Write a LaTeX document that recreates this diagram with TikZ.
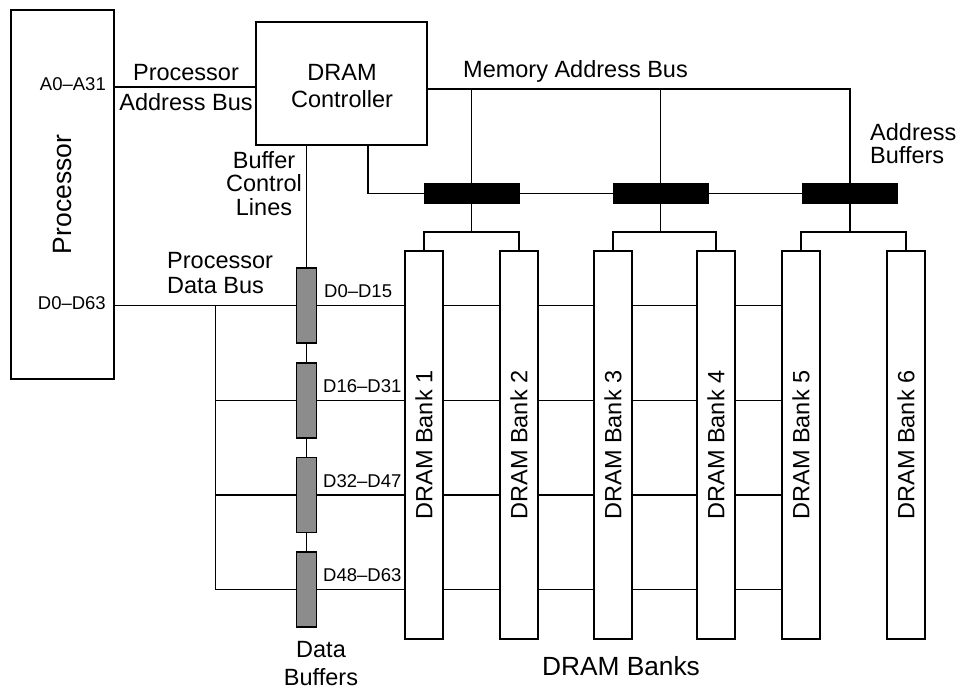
\documentclass[tikz,border=0pt]{standalone}
\usepackage{fontspec}
\setmainfont{Liberation Sans}
\begin{document}
\begin{tikzpicture}[x=1pt,y=-1pt,
  conn/.style={line width=1.1pt},
  box/.style={draw, line width=1.3pt, inner sep=0pt, fill=white},
  bank/.style={box, minimum width=38pt, minimum height=388pt, font=\fontsize{23.5}{27}\selectfont},
  abuf/.style={draw, line width=1pt, fill=black, minimum width=95pt, minimum height=19.5pt, inner sep=0pt},
  dbuf/.style={draw, line width=1.3pt, fill=black!45, minimum width=20pt, minimum height=75pt, inner sep=0pt},
  lbl/.style={font=\fontsize{23.5}{27}\selectfont, inner sep=0pt},
  sm/.style={font=\fontsize{18.5}{22}\selectfont, inner sep=0pt}]
\useasboundingbox (0,0) rectangle (960,691);

% main blocks
\node[box, minimum width=103pt, minimum height=369pt, font=\fontsize{26.5}{30}\selectfont] (proc) at (62.5,194.5) {\rotatebox{90}{Processor}};
\node[box, minimum width=171pt, minimum height=123pt] (ctrl) at (341.5,83.5) {};
\node[lbl, align=center, anchor=base, font=\fontsize{23.5}{27}\selectfont] (ctrlt) at (342,107) {DRAM\\Controller};

% banks
\node[bank] (b1) at (424,445) {\rotatebox{90}{DRAM Bank 1}};
\node[bank] (b2) at (519,445) {\rotatebox{90}{DRAM Bank 2}};
\node[bank] (b3) at (613,445) {\rotatebox{90}{DRAM Bank 3}};
\node[bank] (b4) at (716,445) {\rotatebox{90}{DRAM Bank 4}};
\node[bank] (b5) at (801,445) {\rotatebox{90}{DRAM Bank 5}};
\node[bank] (b6) at (906,445) {\rotatebox{90}{DRAM Bank 6}};

% address buffers
\node[abuf] (ab1) at (471.5,193.5) {};
\node[abuf] (ab2) at (660.5,193.5) {};
\node[abuf] (ab3) at (850,193.5) {};

% data buffers
\node[dbuf] (db1) at (306.5,305.5) {};
\node[dbuf] (db2) at (306.5,400.5) {};
\node[dbuf] (db3) at (306.5,495) {};
\node[dbuf] (db4) at (306.5,589.5) {};

% helper coordinates
\coordinate (pab) at (0,87);
\coordinate (mab) at (0,89);
\coordinate (br) at (0,232);
\coordinate (pdb) at (215.5,0);
\coordinate (cl) at (368,0);

% processor address bus
\draw[conn] (proc.east |- pab) -- (ctrl.west |- pab);
% memory address bus
\draw[conn] (ctrl.east |- mab) -| (ab3.north);
\draw[conn] (ab1.north |- mab) -- (ab1.north);
\draw[conn] (ab2.north |- mab) -- (ab2.north);
% address buffer control line
\draw[conn] (ctrl.south -| cl) |- (ab1.west);
\draw[conn] (ab1.east) -- (ab2.west);
\draw[conn] (ab2.east) -- (ab3.west);
% address buffers to banks
\draw[conn] (ab1.south) -- (ab1.south |- br);
\draw[conn] (ab2.south) -- (ab2.south |- br);
\draw[conn] (ab3.south) -- (ab3.south |- br);
\draw[conn] (b1.north) -- (b1.north |- br) -- (b2.north |- br) -- (b2.north);
\draw[conn] (b3.north) -- (b3.north |- br) -- (b4.north |- br) -- (b4.north);
\draw[conn] (b5.north) -- (b5.north |- br) -- (b6.north |- br) -- (b6.north);

% buffer control lines
\draw[conn] (ctrl.south -| db1) -- (db1.north);
\draw[conn] (db1.south) -- (db2.north);
\draw[conn] (db2.south) -- (db3.north);
\draw[conn] (db3.south) -- (db4.north);

% processor data bus
\draw[conn] (proc.east |- db1) -- (db1.west);
\draw[conn] (pdb |- db1) -- (pdb |- db4);
\draw[conn] (pdb |- db2) -- (db2.west);
\draw[conn] (pdb |- db3) -- (db3.west);
\draw[conn] (pdb |- db4) -- (db4.west);

% data rows to banks
\foreach \d in {db1,db2,db3,db4}{
  \draw[conn] (\d.east) -- (b1.west |- \d);
  \draw[conn] (b1.east |- \d) -- (b2.west |- \d);
  \draw[conn] (b2.east |- \d) -- (b3.west |- \d);
  \draw[conn] (b3.east |- \d) -- (b4.west |- \d);
  \draw[conn] (b4.east |- \d) -- (b5.west |- \d);
}

% labels
\node[sm, anchor=base east] (la) at (106,90) {A0–A31};
\node[sm, anchor=base east] (ld) at (106,309) {D0–D63};
\node[lbl, align=center, anchor=base] (lpab) at (186,110) {Processor\\[3pt]Address Bus};
\node[lbl, anchor=base] (lmab) at (575.5,77) {Memory Address Bus};
\node[lbl, align=left, anchor=base west, font=\fontsize{23.5}{23}\selectfont] (labuf) at (870,163) {Address\\Buffers};
\node[lbl, align=center, anchor=base, font=\fontsize{23.5}{23.5}\selectfont] (lbcl) at (264,215) {Buffer\\Control\\Lines};
\node[lbl, align=left, anchor=base west, font=\fontsize{23.5}{25}\selectfont] (lpdb) at (167,293) {Processor\\Data Bus};
\node[sm, anchor=base west] (l1) at (324,297) {D0–D15};
\node[sm, anchor=base west] (l2) at (323,392) {D16–D31};
\node[sm, anchor=base west] (l3) at (323,487) {D32–D47};
\node[sm, anchor=base west] (l4) at (323,581) {D48–D63};
\node[lbl, align=center, anchor=base, font=\fontsize{23.5}{28}\selectfont] (ldb) at (321,685) {Data\\Buffers};
\node[lbl, anchor=base, font=\fontsize{26.3}{30}\selectfont] (lbanks) at (621,675) {DRAM Banks};
\end{tikzpicture}
\end{document}
